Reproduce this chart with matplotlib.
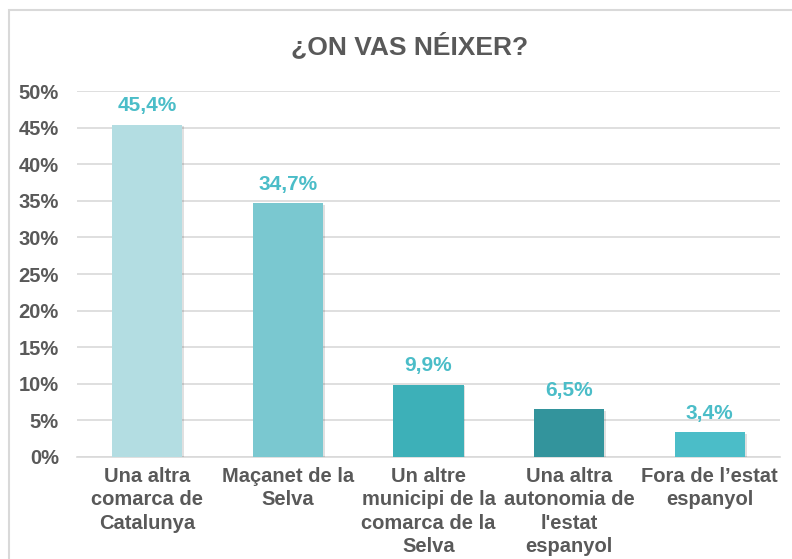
#!/usr/bin/env python3
# Bar chart: ¿ON VAS NÉIXER?

import matplotlib.pyplot as plt
import matplotlib.patheffects as pe
from matplotlib.patches import Rectangle

categories = [
    "Una altra\ncomarca de\nCatalunya",
    "Maçanet de la\nSelva",
    "Un altre\nmunicipi de la\ncomarca de la\nSelva",
    "Una altra\nautonomia de\nl'estat\nespanyol",
    "Fora de l\u2019estat\nespanyol",
]
values = [45.4, 34.7, 9.9, 6.5, 3.4]
colors = ["#B3DDE2", "#7AC8D0", "#3DB0B8", "#33949C", "#4BBDC8"]
yticks = [0, 5, 10, 15, 20, 25, 30, 35, 40, 45, 50]

plt.rcParams["font.family"] = ["Liberation Sans", "DejaVu Sans"]

fig = plt.figure(figsize=(7.92, 5.59), dpi=100)
fig.patches.append(Rectangle((9 / 792, -0.1), 1.2, 1.1 - 10 / 559,
                             transform=fig.transFigure, fill=False,
                             edgecolor="#D9D9D9", linewidth=1.5))

ax = fig.add_axes([77 / 792, 102 / 559, 703 / 792, 366 / 559])
x = range(len(values))
bars = ax.bar(x, values, width=0.5, color=colors, zorder=3)
for b in bars:
    b.set_path_effects([pe.SimplePatchShadow(offset=(1.2, -1.2), alpha=0.12,
                                             shadow_rgbFace="black"), pe.Normal()])
for i, v in zip(x, values):
    ax.annotate(f"{v:.1f}%".replace(".", ","), (i, v), xytext=(0, 9.5),
                textcoords="offset points", ha="center", va="baseline",
                fontsize=15, fontweight="bold", color="#4BBDC8")

ax.set_ylim(0, 50)
ax.set_xlim(-0.5, len(values) - 0.5)
ax.set_yticks(yticks)
ax.set_yticklabels([f"{t}%" for t in yticks], fontsize=14.5, fontweight="bold", color="#595959")
ax.set_xticks(list(x))
ax.set_xticklabels(categories, fontsize=14.5, fontweight="bold", color="#595959",
                   linespacing=1.3, va="top")
ax.tick_params(axis="y", length=0, pad=13)
ax.tick_params(axis="x", length=0, pad=7)
ax.grid(axis="y", color="#D9D9D9", linewidth=1.2, zorder=0)
for s in ["top", "right", "left"]:
    ax.spines[s].set_visible(False)
ax.spines["bottom"].set_color("#D9D9D9")
ax.spines["bottom"].set_linewidth(1.2)

fig.text(0.5 + 14 / 792, 1 - 46 / 559, "\u00bfON VAS N\u00c9IXER?", ha="center", va="center",
         fontsize=19, fontweight="bold", color="#595959")

fig.savefig("out.png", dpi=100)
